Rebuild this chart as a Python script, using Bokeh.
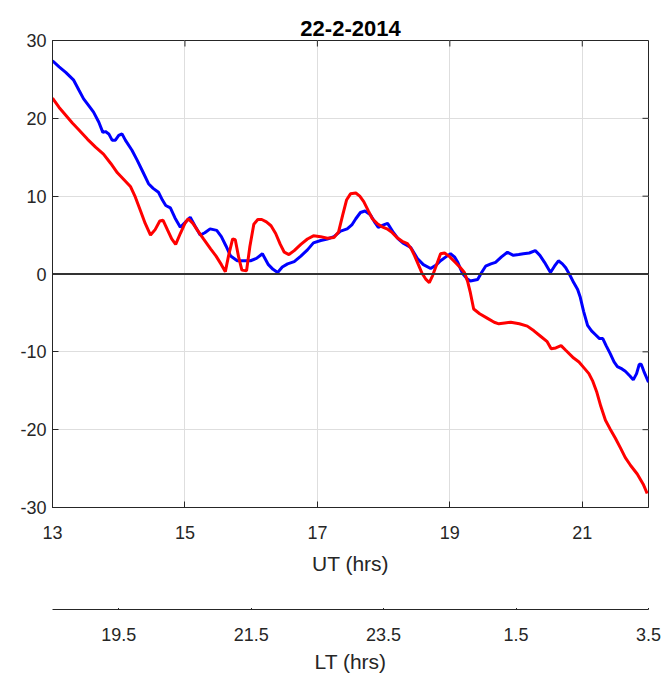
import math
from bokeh.plotting import figure
from bokeh.models import FixedTicker, Span, Range1d
from bokeh.layouts import column
from bokeh.embed import file_html
from bokeh.resources import INLINE

# ---------------- data ----------------
title_text = "22-2-2014"
x_label = "UT (hrs)"
lt_label = "LT (hrs)"
x_min, x_max = 13, 22
y_min, y_max = -30, 30
ut_ticks = [13, 15, 17, 19, 21]
y_ticks = [-30, -20, -10, 0, 10, 20, 30]
lt_tick_positions = [14, 16, 18, 20, 22]
lt_tick_labels = ["19.5", "21.5", "23.5", "1.5", "3.5"]

blue_ut = [13.00, 13.10, 13.20, 13.32, 13.40, 13.47, 13.55, 13.62, 13.70, 13.76,
           13.80, 13.85, 13.90, 13.95, 14.00, 14.05, 14.10, 14.20, 14.28, 14.36,
           14.45, 14.52, 14.60, 14.66, 14.71, 14.78, 14.85, 14.93, 15.00, 15.08,
           15.15, 15.23, 15.30, 15.38, 15.48, 15.55, 15.62, 15.69, 15.79, 15.90,
           15.99, 16.08, 16.17, 16.26, 16.33, 16.40, 16.47, 16.55, 16.65, 16.75,
           16.85, 16.94, 17.05, 17.15, 17.25, 17.35, 17.45, 17.52, 17.58, 17.65,
           17.72, 17.80, 17.87, 17.92, 18.00, 18.06, 18.15, 18.22, 18.29, 18.41,
           18.51, 18.60, 18.71, 18.80, 18.86, 18.94, 19.01, 19.07, 19.12, 19.19,
           19.26, 19.31, 19.42, 19.48, 19.54, 19.62, 19.69, 19.78, 19.87, 19.96,
           20.04, 20.11, 20.20, 20.29, 20.36, 20.43, 20.52, 20.58, 20.64, 20.70,
           20.75, 20.81, 20.87, 20.93, 20.97, 21.02, 21.08, 21.14, 21.20, 21.26,
           21.31, 21.36, 21.42, 21.48, 21.53, 21.60, 21.65, 21.72, 21.77, 21.82,
           21.86, 21.89, 21.93, 22.00]
blue_val = [27.4, 26.6, 25.9, 24.9, 23.6, 22.5, 21.6, 20.8, 19.5, 18.2,
            18.3, 18.0, 17.2, 17.2, 17.8, 18.0, 17.2, 15.9, 14.6, 13.2,
            11.6, 11.0, 10.5, 9.5, 8.8, 8.5, 7.2, 6.0, 6.6, 7.3,
            6.2, 5.0, 5.3, 5.8, 5.6, 4.8, 3.6, 2.3, 1.7, 1.7,
            1.7, 2.0, 2.6, 1.2, 0.6, 0.2, 0.9, 1.3, 1.6, 2.3,
            3.1, 4.0, 4.3, 4.5, 4.8, 5.5, 5.8, 6.3, 7.1, 7.9,
            8.1, 7.6, 6.6, 6.0, 6.3, 6.5, 5.3, 4.5, 4.0, 3.4,
            2.0, 1.2, 0.7, 1.2, 1.7, 2.2, 2.6, 2.2, 1.5, 0.1,
            -0.6, -0.9, -0.7, 0.2, 1.0, 1.3, 1.5, 2.2, 2.8, 2.4,
            2.5, 2.6, 2.7, 3.0, 2.4, 1.5, 0.2, 1.0, 1.7, 1.3,
            0.8, -0.1, -1.1, -2.0, -3.0, -4.8, -6.6, -7.3, -7.8, -8.3,
            -8.3, -9.2, -10.2, -11.3, -11.9, -12.2, -12.5, -13.1, -13.6, -12.8,
            -11.6, -11.6, -12.5, -13.9]

red_ut = [13.00, 13.10, 13.20, 13.30, 13.40, 13.53, 13.65, 13.77, 13.88, 13.98,
          14.08, 14.18, 14.25, 14.33, 14.40, 14.48, 14.55, 14.62, 14.67, 14.74,
          14.80, 14.86, 14.93, 15.00, 15.05, 15.12, 15.19, 15.28, 15.39, 15.47,
          15.55, 15.61, 15.66, 15.72, 15.76, 15.81, 15.86, 15.93, 15.98, 16.04,
          16.10, 16.16, 16.23, 16.30, 16.37, 16.44, 16.50, 16.57, 16.65, 16.75,
          16.85, 16.94, 17.05, 17.15, 17.25, 17.32, 17.38, 17.44, 17.50, 17.58,
          17.64, 17.70, 17.77, 17.83, 17.90, 17.97, 18.05, 18.12, 18.20, 18.28,
          18.36, 18.42, 18.47, 18.52, 18.58, 18.64, 18.69, 18.74, 18.80, 18.86,
          18.92, 19.00, 19.08, 19.16, 19.22, 19.27, 19.31, 19.36, 19.45, 19.57,
          19.67, 19.74, 19.83, 19.92, 20.05, 20.17, 20.27, 20.37, 20.47, 20.53,
          20.60, 20.68, 20.75, 20.87, 20.95, 21.02, 21.10, 21.16, 21.22, 21.28,
          21.35, 21.42, 21.50, 21.58, 21.65, 21.73, 21.83, 21.92, 21.98]
red_val = [22.6, 21.4, 20.4, 19.4, 18.5, 17.3, 16.3, 15.4, 14.2, 13.0,
           12.1, 11.2, 9.9, 8.1, 6.5, 5.0, 5.7, 6.8, 6.9, 5.6,
           4.5, 3.8, 5.2, 6.5, 7.1, 6.5, 5.6, 4.5, 3.2, 2.3,
           1.2, 0.3, 2.4, 4.5, 4.4, 2.2, 0.5, 0.4, 3.5, 6.4,
           7.0, 7.0, 6.7, 6.2, 5.2, 3.8, 2.8, 2.5, 3.0, 3.8,
           4.5, 4.9, 4.8, 4.6, 4.7, 5.4, 7.5, 9.5, 10.3, 10.4,
           10.0, 9.3, 8.1, 7.1, 6.5, 6.1, 5.8, 5.4, 4.7, 4.2,
           3.9, 3.2, 2.3, 1.3, 0.1, -0.7, -1.1, -0.2, 1.2, 2.6,
           2.7, 2.2, 1.5, 0.8, 0.2, -1.0, -2.4, -4.5, -5.1, -5.7,
           -6.2, -6.4, -6.3, -6.2, -6.4, -6.7, -7.3, -8.0, -8.7, -9.6,
           -9.5, -9.2, -9.8, -10.8, -11.3, -12.0, -12.8, -13.8, -15.2, -17.0,
           -18.8, -19.9, -21.1, -22.4, -23.6, -24.6, -25.7, -27.0, -28.2]

# ---------------- styles ----------------
FONT = "Liberation Sans"
AX = "#262626"
GRID = "#dedede"
TICK_FS = "18px"
LABEL_FS = "21px"

xr = Range1d(x_min, x_max)

p = figure(frame_width=596, frame_height=467, output_backend="svg",
           toolbar_location=None, x_range=xr, y_range=Range1d(y_min, y_max),
           min_border_left=52, min_border_right=13, min_border_top=40, min_border_bottom=101,
           background_fill_color="white", border_fill_color="white")
p.outline_line_color = AX
p.outline_line_width = 1

p.title.text = title_text
p.title.align = "center"
p.title.text_font = FONT
p.title.text_font_size = "22px"
p.title.text_font_style = "bold"
p.title.text_color = "#000000"
p.title.standoff = 10


def style_axis(ax):
    ax.axis_line_color = AX
    ax.major_tick_line_color = AX
    ax.major_tick_in = 6
    ax.major_tick_out = 0
    ax.minor_tick_line_color = None
    ax.major_label_text_font = FONT
    ax.major_label_text_font_size = TICK_FS
    ax.major_label_text_color = AX
    ax.axis_label_text_font = FONT
    ax.axis_label_text_font_style = "normal"
    ax.axis_label_text_font_size = LABEL_FS
    ax.axis_label_text_color = AX


xa = p.xaxis[0]
style_axis(xa)
xa.ticker = FixedTicker(ticks=ut_ticks)
xa.major_label_standoff = 18
xa.axis_label = x_label
xa.axis_label_standoff = 10

ya = p.yaxis[0]
style_axis(ya)
ya.ticker = FixedTicker(ticks=y_ticks)
ya.major_label_overrides = {t: str(t) for t in y_ticks}
ya.major_label_standoff = 6

p.xgrid.ticker = FixedTicker(ticks=ut_ticks)
p.ygrid.ticker = FixedTicker(ticks=y_ticks)
p.xgrid.grid_line_color = GRID
p.ygrid.grid_line_color = GRID

# box ticks on top and right edges (inward)
p.ray(x=ut_ticks, y=[y_max] * len(ut_ticks), length=6, length_units="screen",
      angle=-math.pi / 2, line_color=AX, line_width=1)
p.ray(x=[x_max] * len(y_ticks), y=y_ticks, length=6, length_units="screen",
      angle=math.pi, line_color=AX, line_width=1)

# zero line
p.add_layout(Span(location=0, dimension="width", line_color="#333333", line_width=2))

p.line(blue_ut, blue_val, line_color="#0000ff", line_width=3)
p.line(red_ut, red_val, line_color="#ff0000", line_width=3)

# ---------------- LT axis (second figure) ----------------
p2 = figure(frame_width=596, frame_height=1, output_backend="svg",
            toolbar_location=None, x_range=xr, y_range=Range1d(0, 1),
            y_axis_location=None,
            min_border_left=52, min_border_right=13, min_border_top=0, min_border_bottom=0,
            background_fill_color="white", border_fill_color="white")
p2.outline_line_color = None
p2.grid.visible = False
lt = p2.xaxis[0]
style_axis(lt)
lt.ticker = FixedTicker(ticks=lt_tick_positions)
lt.major_tick_in = 5
lt.major_label_overrides = {pos: lab for pos, lab in zip(lt_tick_positions, lt_tick_labels)}
lt.major_label_standoff = 18
lt.axis_label = lt_label
lt.axis_label_standoff = 6

layout = column(p, p2, spacing=0)

open("out.html", "w").write(file_html(layout, INLINE))
